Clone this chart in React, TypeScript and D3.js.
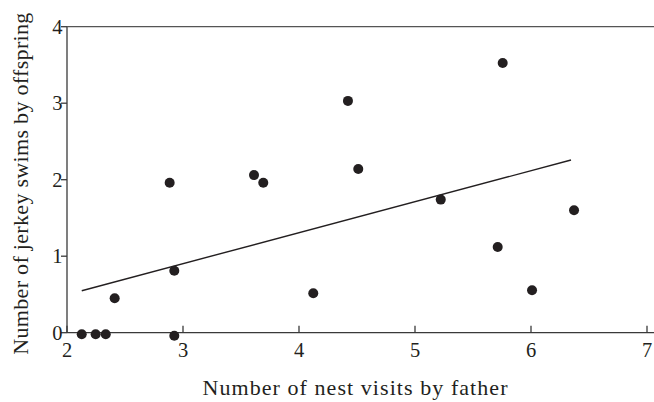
import React from "react";
import * as d3 from "d3";

const visitsX = [2.127, 2.247, 2.334, 2.411, 2.885, 2.925, 2.925, 3.612, 3.692, 4.123, 4.422, 4.511, 5.222, 5.713, 5.756, 6.009, 6.371];
const swimsY = [-0.02, -0.02, -0.02, 0.45, 1.96, 0.81, -0.04, 2.06, 1.96, 0.515, 3.03, 2.14, 1.74, 1.12, 3.525, 0.554, 1.60];
const fitX = [2.127, 6.345];
const fitY = [0.549, 2.257];
const xTicks = [2, 3, 4, 5, 6, 7];
const yTicks = [0, 1, 2, 3, 4];
const xTitle = "Number of nest visits by father";
const yTitle = "Number of jerkey swims by offspring";

const W = 654;
const H = 402;
const left = 67;
const right = 647;
const top = 26.7;
const bottom = 332.7;
const ink = "#231f20";
const font = "'Liberation Serif', 'Times New Roman', serif";

export default function App() {
  const x = d3.scaleLinear().domain([2, 7]).range([left, right]);
  const y = d3.scaleLinear().domain([0, 4]).range([bottom, top]);
  const pts = visitsX.map((v, i) => [v, swimsY[i]] as [number, number]);
  const fit = d3.line<[number, number]>().x((d) => x(d[0])).y((d) => y(d[1]))(
    fitX.map((v, i) => [v, fitY[i]] as [number, number])
  );
  return (
    <svg width={W} height={H} style={{ position: "absolute", left: 0, top: 0, background: "#fff" }}>
      <line x1={left} y1={top} x2={left} y2={bottom} stroke="#3a3a3a" strokeWidth={1.3} />
      <line x1={left} y1={top} x2={W} y2={top} stroke="#555" strokeWidth={1.3} />
      <line x1={left} y1={bottom} x2={W} y2={bottom} stroke="#3a3a3a" strokeWidth={1.3} />
      {yTicks.map((t) => (
        <g key={"y" + t}>
          <line x1={left - 6} x2={left} y1={y(t)} y2={y(t)} stroke="#3a3a3a" strokeWidth={1.3} />
          <text x={62.5} y={y(t)} dy="0.35em" textAnchor="end" fontFamily={font} fontSize={20.5} fill={ink}>
            {t}
          </text>
        </g>
      ))}
      {xTicks.map((t) => (
        <g key={"x" + t}>
          <line x1={x(t)} x2={x(t)} y1={bottom} y2={bottom - 7} stroke="#3a3a3a" strokeWidth={1.3} />
          <text x={x(t)} y={357} textAnchor="middle" fontFamily={font} fontSize={20.5} fill={ink}>
            {t}
          </text>
        </g>
      ))}
      <path d={fit ?? ""} fill="none" stroke={ink} strokeWidth={1.4} />
      {pts.map((p, i) => (
        <circle key={i} cx={x(p[0])} cy={y(p[1])} r={5} fill={ink} />
      ))}
      <text
        x={(left + right) / 2 - 2}
        y={395}
        textAnchor="middle"
        fontFamily={font}
        fontSize={22}
        textLength={305}
        lengthAdjust="spacing"
        fill={ink}
      >
        {xTitle}
      </text>
      <text
        transform={`translate(28,${(top + bottom) / 2 + 4}) rotate(-90)`}
        textAnchor="middle"
        fontFamily={font}
        fontSize={22}
        textLength={342}
        lengthAdjust="spacing"
        fill={ink}
      >
        {yTitle}
      </text>
    </svg>
  );
}
